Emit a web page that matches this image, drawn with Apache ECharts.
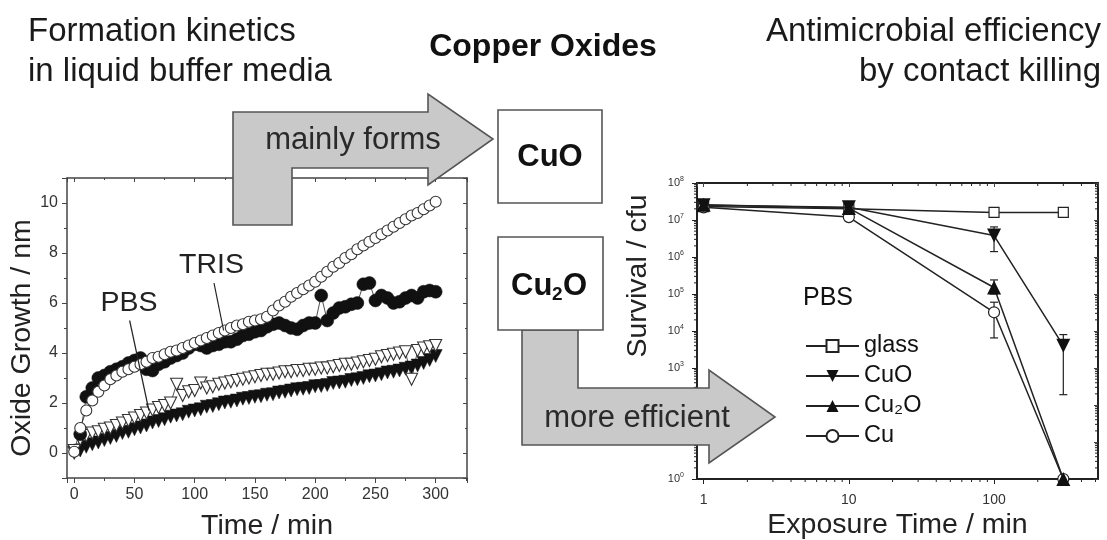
<!DOCTYPE html>
<html>
<head>
<meta charset="utf-8">
<title>Copper Oxides</title>
<script src="https://cdn.jsdelivr.net/npm/echarts@6/dist/echarts.min.js"></script>
<style>
  html, body { margin: 0; padding: 0; background: #fff; }
  #chart { width: 1107px; height: 540px; }
</style>
</head>
<body>
<div id="chart"></div>
<script>
// left panel: oxide growth (nm) against time (min), one reading every 5 min
const timeMin = [
  0, 5, 10, 15, 20, 25, 30, 35, 40, 45,
  50, 55, 60, 65, 70, 75, 80, 85, 90, 95,
  100, 105, 110, 115, 120, 125, 130, 135, 140, 145,
  150, 155, 160, 165, 170, 175, 180, 185, 190, 195,
  200, 205, 210, 215, 220, 225, 230, 235, 240, 245,
  250, 255, 260, 265, 270, 275, 280, 285, 290, 295,
  300
];
const trisOpen = [
  0.05, 1.0, 1.7, 2.1, 2.45, 2.7, 2.95, 3.1, 3.25, 3.35,
  3.45, 3.55, 3.65, 3.8, 3.85, 3.95, 4.05, 4.1, 4.2, 4.3,
  4.4, 4.5, 4.6, 4.7, 4.8, 4.9, 5.0, 5.1, 5.15, 5.25,
  5.3, 5.35, 5.45, 5.7, 5.9, 6.05, 6.25, 6.4, 6.55, 6.7,
  6.85, 7.05, 7.25, 7.45, 7.6, 7.8, 7.95, 8.15, 8.3, 8.45,
  8.6, 8.75, 8.9, 9.05, 9.2, 9.35, 9.5, 9.6, 9.75, 9.9,
  10.05
];
const trisFilled = [
  '-', 0.75, 2.25, 2.6, 3.0, 3.1, 3.25, 3.35, 3.45, 3.6,
  3.7, 3.8, 3.35, 3.3, 3.55, 3.65, 3.8, 3.9, 4.0, 4.2,
  4.35, 4.3, 4.2, 4.3, 4.35, 4.45, 4.45, 4.55, 4.7, 4.75,
  4.85, 4.9, 5.05, 5.15, 5.2, 5.1, 5.0, 4.95, 5.1, 5.2,
  5.2, 6.3, 5.3, 5.6, 5.8, 5.85, 5.95, 6.0, 6.75, 6.8,
  6.1, 6.3, 6.2, 6.0, 6.05, 6.2, 6.3, 6.2, 6.45, 6.5,
  6.45
];
const pbsOpen = [
  0.1, 0.55, 0.7, 0.8, 0.85, 0.95, 1.0, 1.1, 1.2, 1.3,
  1.4, 1.5, 1.6, 1.72, 1.82, 1.9, 2.0, 2.75, 2.3, 2.45,
  2.5, 2.8, 2.6, 2.65, 2.75, 2.8, 2.85, 2.9, 2.95, 3.0,
  3.05, 3.1, 3.15, 3.15, 3.2, 3.25, 3.25, 3.3, 3.3, 3.35,
  3.35, 3.4, 3.4, 3.45, 3.5, 3.55, 3.55, 3.6, 3.65, 3.7,
  3.75, 3.85, 3.9, 3.95, 4.0, 4.05, 2.95, 4.1, 4.2, 4.25,
  4.3
];
const pbsFilled = [
  0.0, 0.1, 0.25, 0.35, 0.42, 0.52, 0.6, 0.68, 0.8, 0.85,
  0.95, 1.02, 1.1, 1.22, 1.28, 1.35, 1.45, 1.5, 1.55, 1.65,
  1.7, 1.75, 1.85, 1.88, 1.95, 2.02, 2.05, 2.1, 2.17, 2.2,
  2.25, 2.27, 2.33, 2.35, 2.42, 2.45, 2.5, 2.55, 2.57, 2.6,
  2.67, 2.68, 2.72, 2.8, 2.82, 2.85, 2.92, 2.95, 3.0, 3.07,
  3.1, 3.15, 3.22, 3.25, 3.3, 3.37, 3.42, 3.5, 3.6, 3.72,
  3.88
];

// right panel: survival (cfu) against exposure time (min)
const exposureMin = [1, 10, 100, 300];
const glassCfu = [2.3e7, 2.0e7, 1.6e7, 1.6e7];
const cuoCfu = [2.5e7, 2.2e7, 3.8e6, 4.0e3];
const cu2oCfu = [2.6e7, 2.1e7, 1.5e5, 1];
const cuCfu = [2.2e7, 1.2e7, 3.2e4, 1];
// [time, low, high]
const survivalErr = [
  [100, 1.4e6, 6.5e6],
  [300, 190, 8.0e3],
  [100, 1.0e5, 2.4e5],
  [100, 6.5e3, 6.0e4],
  [300, 1.2e7, 2.1e7]
];

// minor ticks of the log axes
const logMinorX = [2, 3, 4, 5, 6, 7, 8, 9, 20, 30, 40, 50, 60, 70, 80, 90, 200, 300, 400, 500];
const logMinorY = [];
for (let k = 0; k < 8; k++) {
  for (let m = 2; m <= 9; m++) logMinorY.push(m * Math.pow(10, k));
}

const FONT = '"Liberation Sans", Arial, sans-serif';
const pairs = (xs, ys) => xs.map((t, i) => [t, ys[i]]).filter(p => p[1] !== '-');

const myChart = echarts.init(document.getElementById('chart'));

const openStyle = { color: '#fff', borderColor: '#333', borderWidth: 1.1 };
const solidStyle = { color: '#111', borderColor: '#111', borderWidth: 0.5 };
const thinLine = { color: '#222', width: 0.8 };

function frameAxis(grid, pos, extra) {
  return Object.assign({
    gridIndex: grid,
    position: pos,
    splitLine: { show: false },
    axisLine: { show: true, onZero: false, lineStyle: { color: '#444', width: 1.5 } },
    axisTick: { show: true, inside: true, length: 4, lineStyle: { color: '#444' } },
    axisLabel: { show: false }
  }, extra);
}

function txt(x, y, text, font, extra) {
  return Object.assign({ type: 'text', x: x, y: y, style: Object.assign({ text: text, font: font + ' ' + FONT, fill: '#1a1a1a', verticalAlign: 'middle' }, extra || {}) });
}

const option = {
  animation: false,
  textStyle: { fontFamily: FONT },
  grid: [
    { left: 67, right: 640, top: 178, bottom: 62, outerBoundsMode: 'none' },
    { left: 697, right: 9, top: 183, bottom: 61, outerBoundsMode: 'none' }
  ],
  xAxis: [
    {
      type: 'value', gridIndex: 0, position: 'bottom', min: -6, max: 326, splitNumber: 7,
      splitLine: { show: false },
      axisLine: { show: true, onZero: false, lineStyle: { color: '#444', width: 1.5 } },
      axisTick: { show: true, length: 5, lineStyle: { color: '#444' } },
      minorTick: { show: true, splitNumber: 2, length: 3, lineStyle: { color: '#444' } },
      axisLabel: { fontSize: 16, color: '#333', margin: 9, showMinLabel: false, showMaxLabel: false },
      name: 'Time / min', nameLocation: 'middle', nameGap: 34, nameMoveOverlap: false,
      nameTextStyle: { fontSize: 28.5, color: '#222' }
    },
    frameAxis(0, 'top', { type: 'value', min: -6, max: 326, splitNumber: 7,
      minorTick: { show: true, splitNumber: 2, length: 2, lineStyle: { color: '#444' } } }),
    {
      type: 'log', logBase: 10, gridIndex: 1, position: 'bottom', min: 0.9, max: 520,
      splitLine: { show: false },
      axisLine: { show: true, onZero: false, lineStyle: { color: '#222', width: 2 } },
      axisTick: { show: true, length: 5, lineStyle: { color: '#222' } },
      axisLabel: { fontSize: 14, color: '#333', margin: 14, showMinLabel: false, showMaxLabel: false },
      name: 'Exposure Time / min', nameLocation: 'middle', nameGap: 32, nameMoveOverlap: false,
      nameTextStyle: { fontSize: 28.5, color: '#222' }
    },
    frameAxis(1, 'top', { type: 'log', logBase: 10, min: 0.9, max: 520,
      axisLine: { show: true, onZero: false, lineStyle: { color: '#222', width: 2 } } })
  ],
  yAxis: [
    {
      type: 'value', gridIndex: 0, position: 'left', min: -1, max: 11, splitNumber: 6,
      splitLine: { show: false },
      axisLine: { show: true, onZero: false, lineStyle: { color: '#444', width: 1.5 } },
      axisTick: { show: true, length: 5, lineStyle: { color: '#444' } },
      minorTick: { show: true, splitNumber: 2, length: 3, lineStyle: { color: '#444' } },
      axisLabel: { fontSize: 16, color: '#333', margin: 9, showMinLabel: false, showMaxLabel: false }
    },
    frameAxis(0, 'right', { type: 'value', min: -1, max: 11, splitNumber: 6,
      minorTick: { show: true, splitNumber: 2, length: 2, lineStyle: { color: '#444' } } }),
    {
      type: 'log', logBase: 10, gridIndex: 1, position: 'left', min: 1, max: 1e8, splitNumber: 8,
      splitLine: { show: false },
      axisLine: { show: true, onZero: false, lineStyle: { color: '#222', width: 2 } },
      axisTick: { show: true, length: 5, lineStyle: { color: '#222' } },
      axisLabel: {
        margin: 13, color: '#333',
        formatter: v => '{b|10}{s|' + Math.round(Math.log10(v)) + '}',
        rich: {
          b: { fontSize: 11, color: '#333', fontFamily: FONT },
          s: { fontSize: 7, color: '#333', fontFamily: FONT, verticalAlign: 'top', padding: [0, 0, 7, 0] }
        }
      }
    },
    frameAxis(1, 'right', { type: 'log', logBase: 10, min: 1, max: 1e8, splitNumber: 8,
      axisLine: { show: true, onZero: false, lineStyle: { color: '#222', width: 2 } } })
  ],
  legend: {
    data: ['glass', 'CuO', 'Cu₂O', 'Cu'],
    orient: 'vertical', left: 805, top: 334, padding: 0,
    itemWidth: 53, itemHeight: 15, itemGap: 6,
    selectedMode: false,
    textStyle: { fontSize: 23.5, color: '#111', lineHeight: 23, fontFamily: FONT }
  },
  series: [
    {
      name: 'PBS filled', type: 'line', xAxisIndex: 0, yAxisIndex: 0,
      data: pairs(timeMin, pbsFilled), symbol: 'triangle', symbolRotate: 180, symbolSize: 13,
      itemStyle: solidStyle, lineStyle: thinLine
    },
    {
      name: 'PBS open', type: 'line', xAxisIndex: 0, yAxisIndex: 0,
      data: pairs(timeMin, pbsOpen), symbol: 'triangle', symbolRotate: 180, symbolSize: 12,
      itemStyle: openStyle, lineStyle: thinLine
    },
    {
      name: 'TRIS filled', type: 'line', xAxisIndex: 0, yAxisIndex: 0,
      data: pairs(timeMin, trisFilled), symbol: 'circle', symbolSize: 13,
      itemStyle: solidStyle, lineStyle: thinLine
    },
    {
      name: 'TRIS open', type: 'line', xAxisIndex: 0, yAxisIndex: 0,
      data: pairs(timeMin, trisOpen), symbol: 'circle', symbolSize: 11,
      itemStyle: openStyle, lineStyle: thinLine,
      markLine: {
        silent: true, symbol: ['none', 'none'], label: { show: false },
        lineStyle: { color: '#222', width: 1.2, type: 'solid' },
        data: [
          [{ coord: [46, 5.3] }, { coord: [62, 1.7] }],
          [{ coord: [116, 6.8] }, { coord: [124, 4.9] }]
        ]
      },
      markPoint: {
        silent: true, symbol: 'circle', symbolSize: 1, itemStyle: { color: 'transparent' },
        label: { show: true, position: 'inside', formatter: p => p.name, fontSize: 28.5, color: '#222', fontFamily: FONT },
        data: [
          { name: 'PBS', coord: [45.5, 6.0] },
          { name: 'TRIS', coord: [114, 7.5] }
        ]
      }
    },
    {
      type: 'custom', xAxisIndex: 2, yAxisIndex: 2, silent: true, clip: false, z: 1,
      data: logMinorX.map(v => [v, 1]),
      renderItem: (params, api) => {
        const b = api.coord([api.value(0), 1]);
        const t = api.coord([api.value(0), 1e8]);
        const st = { stroke: '#222', lineWidth: 1 };
        return { type: 'group', children: [
          { type: 'line', shape: { x1: b[0], y1: b[1], x2: b[0], y2: b[1] + 3 }, style: st },
          { type: 'line', shape: { x1: t[0], y1: t[1], x2: t[0], y2: t[1] + 3 }, style: st }
        ] };
      }
    },
    {
      type: 'custom', xAxisIndex: 2, yAxisIndex: 2, silent: true, clip: false, z: 1,
      data: logMinorY.map(v => [1, v]),
      renderItem: (params, api) => {
        const l = api.coord([0.9, api.value(1)]);
        const r = api.coord([520, api.value(1)]);
        const st = { stroke: '#222', lineWidth: 1 };
        return { type: 'group', children: [
          { type: 'line', shape: { x1: l[0] - 3, y1: l[1], x2: l[0], y2: l[1] }, style: st },
          { type: 'line', shape: { x1: r[0] - 3, y1: r[1], x2: r[0], y2: r[1] }, style: st }
        ] };
      }
    },
    {
      type: 'custom', xAxisIndex: 2, yAxisIndex: 2, silent: true, clip: false, z: 2,
      data: survivalErr,
      encode: { x: 0, y: [1, 2] },
      renderItem: (params, api) => {
        const lo = api.coord([api.value(0), api.value(1)]);
        const hi = api.coord([api.value(0), api.value(2)]);
        const st = { stroke: '#222', lineWidth: 1.2 };
        return { type: 'group', children: [
          { type: 'line', shape: { x1: lo[0], y1: lo[1], x2: hi[0], y2: hi[1] }, style: st },
          { type: 'line', shape: { x1: lo[0] - 4, y1: lo[1], x2: lo[0] + 4, y2: lo[1] }, style: st },
          { type: 'line', shape: { x1: hi[0] - 4, y1: hi[1], x2: hi[0] + 4, y2: hi[1] }, style: st }
        ] };
      }
    },
    {
      name: 'glass', type: 'line', xAxisIndex: 2, yAxisIndex: 2, z: 3, clip: false,
      data: pairs(exposureMin, glassCfu), symbol: 'rect', symbolSize: 10,
      itemStyle: { color: '#fff', borderColor: '#222', borderWidth: 1.2 }, lineStyle: { color: '#222', width: 1.5 }
    },
    {
      name: 'CuO', type: 'line', xAxisIndex: 2, yAxisIndex: 2, z: 5, clip: false,
      data: pairs(exposureMin, cuoCfu), symbol: 'triangle', symbolRotate: 180, symbolSize: 14,
      itemStyle: { color: '#111' }, lineStyle: { color: '#222', width: 1.5 }
    },
    {
      name: 'Cu₂O', type: 'line', xAxisIndex: 2, yAxisIndex: 2, z: 5, clip: false,
      data: pairs(exposureMin, cu2oCfu), symbol: 'triangle', symbolSize: 14,
      itemStyle: { color: '#111' }, lineStyle: { color: '#222', width: 1.5 }
    },
    {
      name: 'Cu', type: 'line', xAxisIndex: 2, yAxisIndex: 2, z: 4, clip: false,
      data: pairs(exposureMin, cuCfu), symbol: 'circle', symbolSize: 11,
      itemStyle: { color: '#fff', borderColor: '#222', borderWidth: 1.2 }, lineStyle: { color: '#222', width: 1.5 }
    }
  ],
  graphic: [
    // headings
    txt(28, 32, 'Formation kinetics', '33px'),
    txt(28, 72, 'in liquid buffer media', '33px'),
    txt(543, 47, 'Copper Oxides', 'bold 32px', { align: 'center', fill: '#111' }),
    txt(1101, 32, 'Antimicrobial efficiency', '33px', { align: 'right' }),
    txt(1101, 72, 'by contact killing', '33px', { align: 'right' }),
    // y axis titles
    Object.assign(txt(22, 338, 'Oxide Growth / nm', '28.5px', { align: 'center', fill: '#222' }), { rotation: Math.PI / 2 }),
    Object.assign(txt(638, 276, 'Survival / cfu', '28.5px', { align: 'center', fill: '#222' }), { rotation: Math.PI / 2 }),
    // legend heading
    txt(803, 298, 'PBS', '25px', { fill: '#111' }),
    // arrows and boxes
    {
      type: 'polygon', z: 100,
      shape: { points: [[233, 225], [233, 112], [428, 112], [428, 94], [493, 139], [428, 185], [428, 168], [292, 168], [292, 225]] },
      style: { fill: '#c9c9c9', stroke: '#555', lineWidth: 1.6 }
    },
    Object.assign(txt(353, 140, 'mainly forms', '31px', { align: 'center', fill: '#2a2a2a' }), { z: 101 }),
    {
      type: 'polygon', z: 100,
      shape: { points: [[522, 330], [522, 445], [709, 445], [709, 463], [775, 417], [709, 370], [709, 388], [578, 388], [578, 330]] },
      style: { fill: '#c9c9c9', stroke: '#555', lineWidth: 1.6 }
    },
    Object.assign(txt(637, 418, 'more efficient', '31px', { align: 'center', fill: '#2a2a2a' }), { z: 101 }),
    { type: 'rect', z: 100, shape: { x: 498, y: 110, width: 104, height: 93 }, style: { fill: '#fff', stroke: '#555', lineWidth: 1.6 } },
    Object.assign(txt(550, 157, 'CuO', 'bold 31px', { align: 'center', fill: '#111' }), { z: 101 }),
    { type: 'rect', z: 100, shape: { x: 498, y: 237, width: 105, height: 93 }, style: { fill: '#fff', stroke: '#555', lineWidth: 1.6 } },
    Object.assign(txt(511, 286, 'Cu', 'bold 31px', { fill: '#111' }), { z: 101 }),
    Object.assign(txt(552, 295, '2', 'bold 19px', { fill: '#111' }), { z: 101 }),
    Object.assign(txt(563, 286, 'O', 'bold 31px', { fill: '#111' }), { z: 101 })
  ]
};

myChart.setOption(option);
</script>
</body>
</html>
